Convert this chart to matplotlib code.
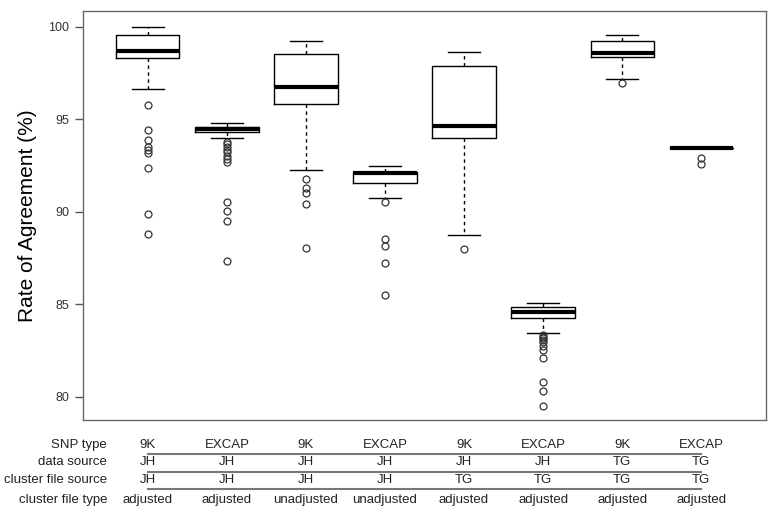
import matplotlib
matplotlib.use('Agg')
import matplotlib.pyplot as plt
import matplotlib.transforms as mtransforms

plt.rcParams['font.family'] = ['Liberation Sans', 'DejaVu Sans']

# Box statistics (Rate of Agreement, %)
whis_hi = [100.0, 94.81, 99.24, 92.49, 98.63, 85.05, 99.55, 93.44]
q3 = [99.55, 94.59, 98.51, 92.15, 97.89, 84.83, 99.24, 93.46]
medians = [98.69, 94.49, 96.72, 92.08, 94.63, 84.59, 98.59, 93.44]
q1 = [98.32, 94.32, 95.81, 91.54, 94.00, 84.24, 98.38, 93.42]
whis_lo = [96.63, 93.97, 92.25, 90.76, 88.76, 83.46, 97.17, 93.44]
outliers = [
    [95.77, 94.42, 93.87, 93.51, 93.33, 93.16, 92.38, 89.89, 88.81],
    [93.78, 93.65, 93.5, 93.35, 93.2, 93.0, 92.85, 92.7, 90.54, 90.04, 89.5, 87.35],
    [91.75, 91.30, 91.03, 90.42, 88.05],
    [90.54, 88.52, 88.15, 87.21, 85.5],
    [88.0],
    [83.35, 83.25, 83.15, 83.05, 82.95, 82.74, 82.52, 82.11, 80.81, 80.31, 79.50],
    [96.97],
    [92.9, 92.6],
]

# Table under the plot
row_names = ['SNP type', 'data source', 'cluster file source', 'cluster file type']
snp_type = ['9K', 'EXCAP', '9K', 'EXCAP', '9K', 'EXCAP', '9K', 'EXCAP']
data_source = ['JH', 'JH', 'JH', 'JH', 'JH', 'JH', 'TG', 'TG']
cluster_source = ['JH', 'JH', 'JH', 'JH', 'TG', 'TG', 'TG', 'TG']
cluster_type = ['adjusted', 'adjusted', 'unadjusted', 'unadjusted',
                'adjusted', 'adjusted', 'adjusted', 'adjusted']

stats = []
for i in range(len(medians)):
    stats.append(dict(med=medians[i], q1=q1[i], q3=q3[i],
                      whislo=whis_lo[i], whishi=whis_hi[i], fliers=outliers[i]))

fig = plt.figure(figsize=(7.73, 5.18), dpi=100)
ax = fig.add_axes([0.1074, 0.1892, 0.8836, 0.7896])

positions = list(range(1, len(medians) + 1))
ax.bxp(stats, positions=positions, widths=0.8, showfliers=True,
       boxprops=dict(color='black', linewidth=1),
       medianprops=dict(color='black', linewidth=3, solid_capstyle='butt'),
       whiskerprops=dict(color='black', linewidth=1, linestyle=(0, (2.5, 2.5))),
       capprops=dict(color='black', linewidth=1),
       flierprops=dict(marker='o', markerfacecolor='none', markeredgecolor='#333333',
                       markersize=5, markeredgewidth=0.9),
       capwidths=0.4)

ax.set_xlim(0.18, 8.82)
ax.set_ylim(78.74, 100.85)
ax.set_yticks([80, 85, 90, 95, 100])
ax.set_xticks([])
ax.tick_params(axis='y', direction='out', length=6, width=1, colors='#555555',
               labelsize=9, labelcolor='#333333', pad=4)
for sp in ax.spines.values():
    sp.set_color('#666666')
    sp.set_linewidth(1)
ax.set_ylabel('Rate of Agreement (%)', fontsize=15, labelpad=8)

# Table rows below the axes
trans = mtransforms.blended_transform_factory(ax.transData, fig.transFigure)
rows = [snp_type, data_source, cluster_source, cluster_type]
row_y = [1 - 445 / 518, 1 - 462 / 518, 1 - 480 / 518, 1 - 500 / 518]
line_y = [1 - 454 / 518, 1 - 472 / 518, 1 - 489 / 518]
for name, vals, y in zip(row_names, rows, row_y):
    fig.text(107 / 773, y, name, ha='right', va='center', fontsize=9.5, color='#222222')
    for x, v in zip(positions, vals):
        ax.text(x, y, v, transform=trans, ha='center', va='center',
                fontsize=9.5, color='#222222', clip_on=False)
for y in line_y:
    ax.plot([positions[0], positions[-1]], [y, y], transform=trans,
            color='#777777', linewidth=1.5, clip_on=False)

fig.savefig('out.png', dpi=100)
